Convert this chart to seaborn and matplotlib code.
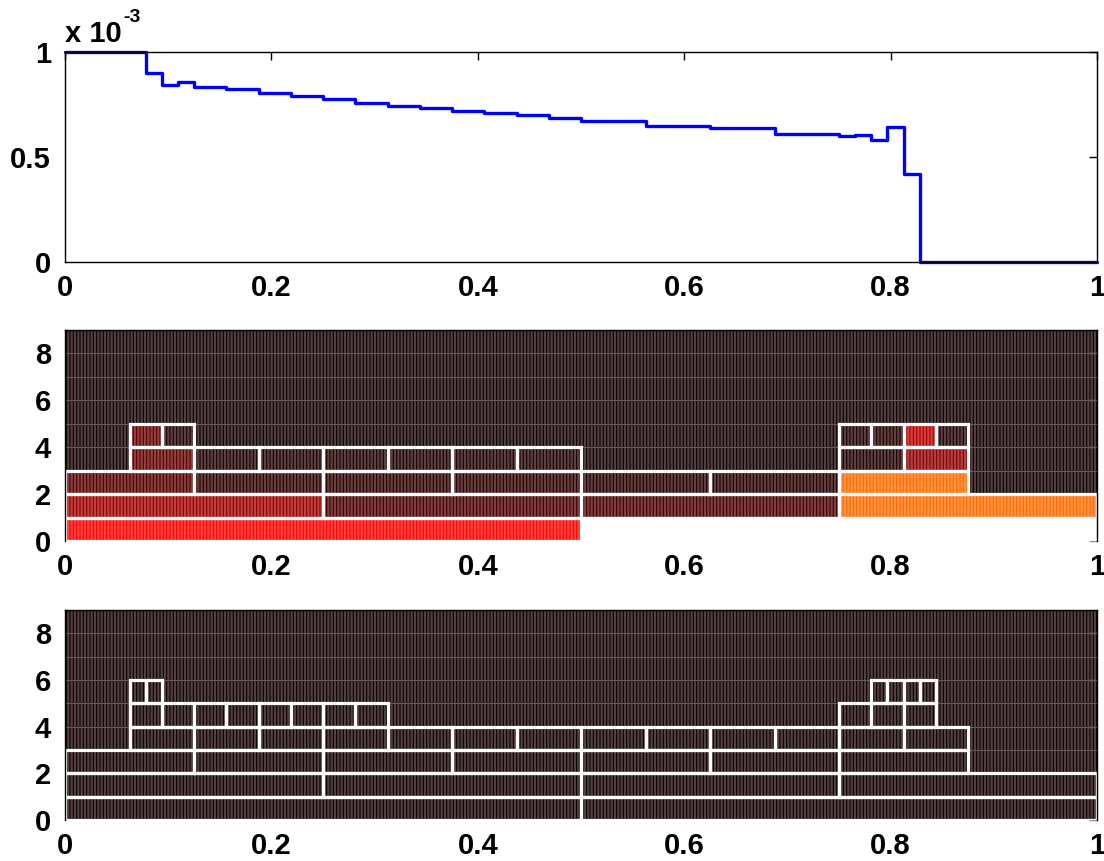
"""
Dyadic tree refinement: density estimate on top, cell values for two trees below
"""

import numpy as np
import matplotlib
matplotlib.use('Agg')  # no display
import matplotlib.pyplot as plt
from matplotlib.patches import Rectangle
from matplotlib.ticker import FuncFormatter
import seaborn as sns

# --- top panel: piecewise constant density (units of 1e-3), steps-post ---
step_x = [0.0, 0.078125, 0.09375, 0.109375, 0.125, 0.15625, 0.1875, 0.21875,
          0.25, 0.28125, 0.3125, 0.34375, 0.375, 0.40625, 0.4375, 0.46875,
          0.5, 0.5625, 0.625, 0.6875, 0.75, 0.765625, 0.78125, 0.796875,
          0.8125, 0.828125, 1.0]
step_y = [1.0, 0.902, 0.841, 0.857, 0.835, 0.822, 0.806, 0.790,
          0.775, 0.759, 0.743, 0.735, 0.721, 0.711, 0.699, 0.688,
          0.673, 0.649, 0.636, 0.611, 0.598, 0.605, 0.580, 0.643,
          0.418, 0.0, 0.0]

# --- middle panel: tree cells (level, left edge, value) ---
mid_level = [0, 0,
             1, 1, 1, 1,
             2, 2, 2, 2, 2, 2, 2,
             3, 3, 3, 3, 3, 3, 3, 3, 3,
             4, 4, 4, 4, 4, 4]
mid_left = [0.0, 0.5,
            0.0, 0.25, 0.5, 0.75,
            0.0, 0.125, 0.25, 0.375, 0.5, 0.625, 0.75,
            0.0625, 0.125, 0.1875, 0.25, 0.3125, 0.375, 0.4375, 0.75, 0.8125,
            0.0625, 0.09375, 0.75, 0.78125, 0.8125, 0.84375]
mid_value = [0.37, 1.0,
             0.20, 0.08, 0.08, 0.52,
             0.10, 0.04, 0.04, 0.04, 0.03, 0.03, 0.52,
             0.12, 0.02, 0.02, 0.02, 0.02, 0.02, 0.02, 0.02, 0.18,
             0.12, 0.02, 0.02, 0.03, 0.24, 0.02]

# --- bottom panel: tree cells, all values zero ---
bot_level = ([0] * 2 + [1] * 4 + [2] * 7 + [3] * 13 + [4] * 11 + [5] * 6)
bot_left = [0.0, 0.5,
            0.0, 0.25, 0.5, 0.75,
            0.0, 0.125, 0.25, 0.375, 0.5, 0.625, 0.75,
            0.0625, 0.125, 0.1875, 0.25, 0.3125, 0.375, 0.4375, 0.5,
            0.5625, 0.625, 0.6875, 0.75, 0.8125,
            0.0625, 0.09375, 0.125, 0.15625, 0.1875, 0.21875, 0.25, 0.28125,
            0.75, 0.78125, 0.8125,
            0.0625, 0.078125, 0.78125, 0.796875, 0.8125, 0.828125]
bot_value = [0.0] * len(bot_left)

W, H = 1104, 861
FS = 21

sns.set_theme(style='white')
plt.rcParams['font.family'] = ['Liberation Sans', 'DejaVu Sans']
plt.rcParams['font.weight'] = 'bold'
plt.rcParams['text.color'] = 'black'
plt.rcParams['hatch.linewidth'] = 1.6

HATCH = '|||||'
GRAY = np.array([0.29, 0.25, 0.25])


def texture_color(rgba):
    # streaks of the rendered image: lighter grey-brown on dark cells
    c = np.clip(np.array(rgba[:3]) * 0.8 + GRAY, 0, 1)
    return tuple(c)


def style_axes(ax, yticks, ylabels, top=True):
    ax.set_xlim(0, 1)
    ax.set_xticks([0, 0.2, 0.4, 0.6, 0.8, 1.0])
    ax.xaxis.set_major_formatter(FuncFormatter(lambda v, p: '%g' % v))
    ax.set_yticks(yticks)
    ax.set_yticklabels(ylabels)
    ax.tick_params(axis='both', direction='in', length=6, width=1,
                   top=top, right=True, labelsize=FS, colors='black')
    ax.tick_params(axis='x', pad=8.5)
    ax.tick_params(axis='y', pad=10)
    for s in ax.spines.values():
        s.set_color('black')
        s.set_linewidth(1.0)
    for lab in ax.get_xticklabels() + ax.get_yticklabels():
        lab.set_fontweight('bold')


def draw_tree(ax, level, left, value):
    cmap = plt.get_cmap('hot')
    level = np.asarray(level)
    width = 0.5 / 2.0 ** level
    colors = [cmap(v) for v in value]
    streaks = [texture_color(c) for c in colors]
    # textured background (unrefined region, value 0)
    ax.add_patch(Rectangle((0, 0), 1, 1, transform=ax.transAxes,
                           facecolor=cmap(0.0), edgecolor=texture_color(cmap(0.0)),
                           hatch=HATCH, linewidth=0, zorder=0.5))
    ax.hlines(np.arange(1, 9), 0, 1, color='#6a5a5a', linewidth=0.7, zorder=0.6)
    ax.bar(left, 1, width=width, bottom=level, align='edge', color=colors,
           edgecolor=streaks, hatch=HATCH, linewidth=0, zorder=1)
    ax.bar(left, 1, width=width, bottom=level, align='edge', fill=False,
           edgecolor='white', linewidth=2.3, zorder=1.2)
    ax.set_ylim(0, 9)
    style_axes(ax, [0, 2, 4, 6, 8], ['0', '2', '4', '6', '8'], top=False)
    ax.spines['bottom'].set_visible(False)
    ax.tick_params(axis='both', colors='#8c8c8c', labelcolor='black')


fig = plt.figure(figsize=(W / 100, H / 100), dpi=100)
left_f = 65 / W
width_f = 1032 / W
ax1 = fig.add_axes([left_f, 1 - 262 / H, width_f, 210 / H])
ax2 = fig.add_axes([left_f, 1 - 541 / H, width_f, 211 / H])
ax3 = fig.add_axes([left_f, 1 - 820 / H, width_f, 210 / H])

# top: step function
df = {'x': step_x, 'y': step_y}
sns.lineplot(x='x', y='y', data=df, ax=ax1, drawstyle='steps-post',
             color=(0, 0, 1), linewidth=2.4, estimator=None, clip_on=False)
ax1.set_ylim(0, 1.0)
ax1.set_xlabel('')
ax1.set_ylabel('')
style_axes(ax1, [0, 0.5, 1.0], ['0', '0.5', '1'])
fig.text(65 / W, 1 - 42 / H, 'x 10', fontsize=FS, fontweight='bold',
         va='baseline', ha='left', color='black')
fig.text(123 / W, 1 - 22 / H, '-3', fontsize=14, fontweight='bold',
         va='baseline', ha='left', color='black')

draw_tree(ax2, mid_level, mid_left, mid_value)
draw_tree(ax3, bot_level, bot_left, bot_value)

fig.savefig('out.png', dpi=100, facecolor='white')
